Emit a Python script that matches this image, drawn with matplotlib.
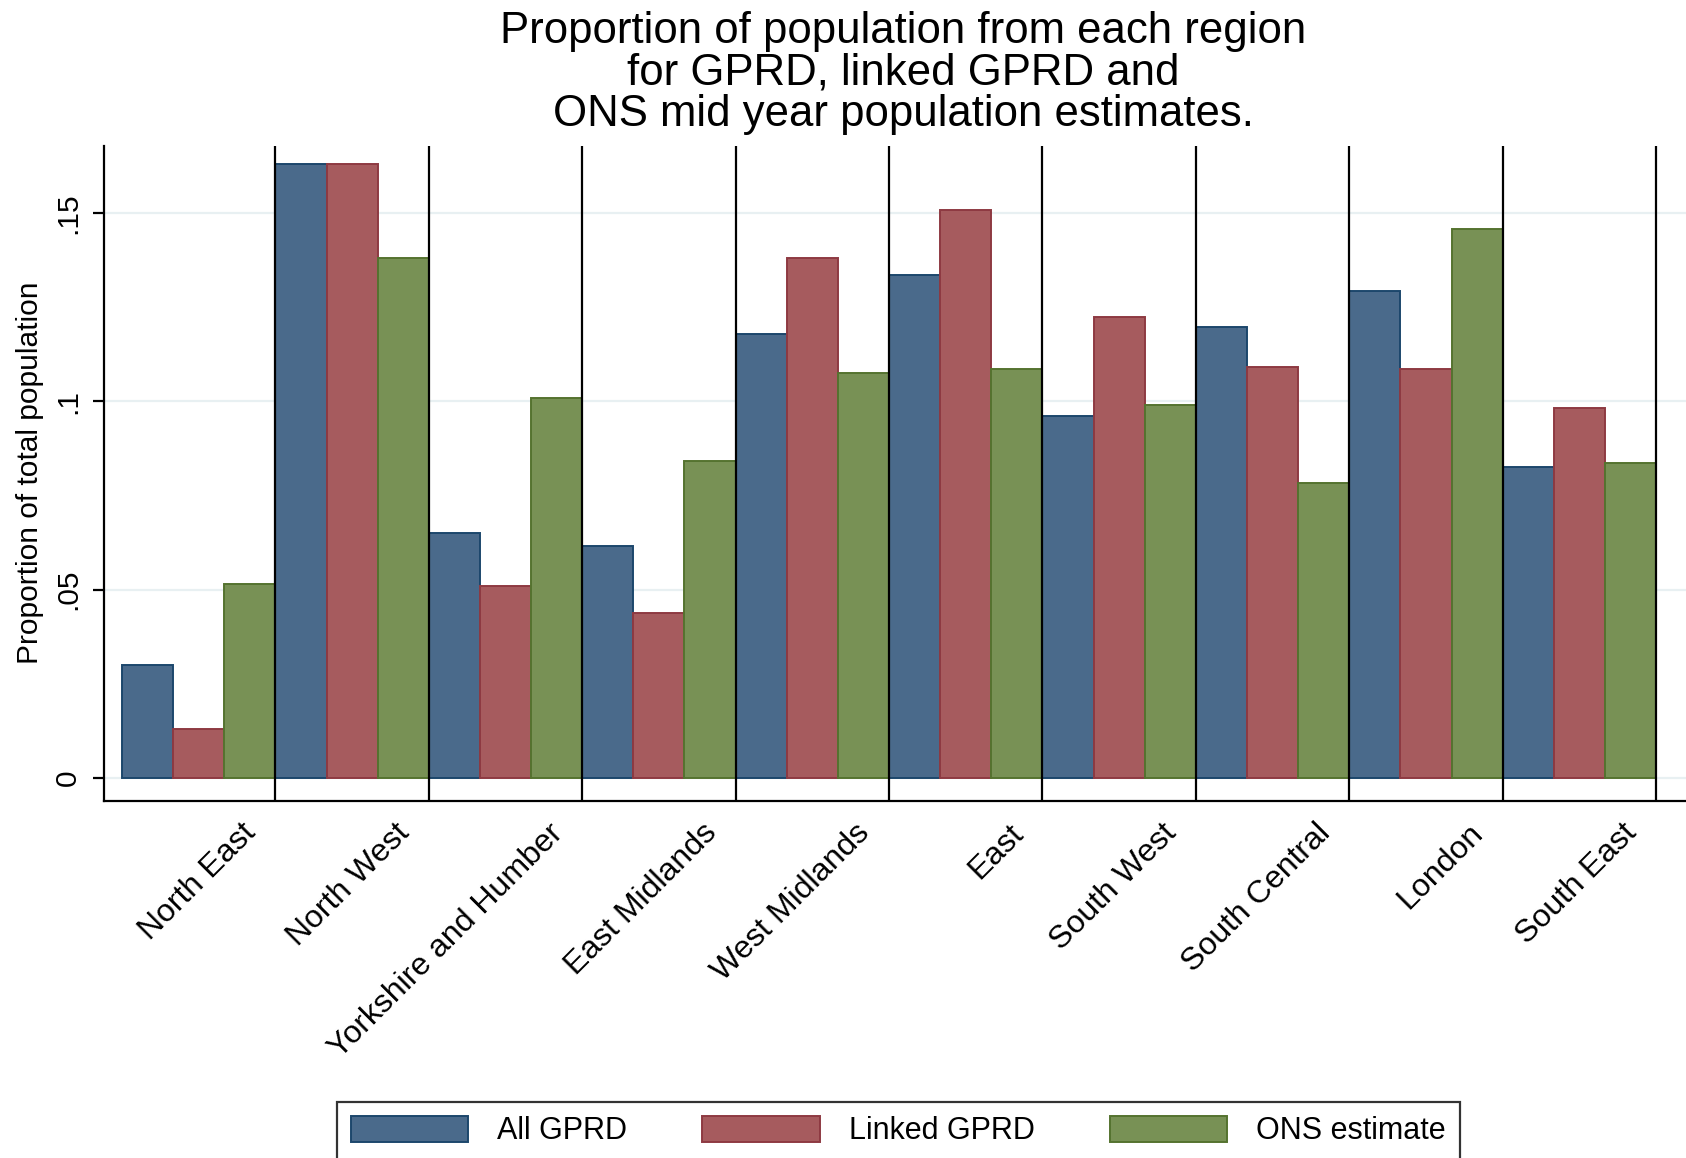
import numpy as np
import matplotlib.pyplot as plt
import matplotlib.transforms as mtransforms

# Schrift (Arial-kompatibel)
plt.rcParams.update({'font.family': ['Liberation Sans', 'DejaVu Sans']})

# Daten
regions = ['North East', 'North West', 'Yorkshire and Humber', 'East Midlands',
           'West Midlands', 'East', 'South West', 'South Central', 'London', 'South East']
all_gprd = [0.0301, 0.163, 0.065, 0.0616, 0.118, 0.1335, 0.096, 0.1198, 0.1292, 0.0825]
linked_gprd = [0.0129, 0.163, 0.051, 0.0438, 0.138, 0.1507, 0.1223, 0.1092, 0.1086, 0.0983]
ons_estimate = [0.0516, 0.138, 0.1009, 0.0842, 0.1074, 0.1086, 0.0991, 0.0782, 0.1458, 0.0837]
series_names = ['All GPRD', 'Linked GPRD', 'ONS estimate']
yticks = [0, 0.05, 0.1, 0.15]
ytick_labels = ['0', '.05', '.1', '.15']

fills = ['#4a6a8b', '#a65b5e', '#789155']
edges = ['#1c476c', '#8e3a42', '#55732f']

fig = plt.figure(figsize=(16.86, 11.58), dpi=100)
ax = fig.add_axes([104 / 1686, 1 - 801 / 1158, 1 - 104 / 1686, (801 - 146) / 1158])

n = len(regions)
x = np.arange(n)
w = 1 / 3
for k, vals in enumerate([all_gprd, linked_gprd, ons_estimate]):
    ax.bar(x + w * (k + 0.5), vals, width=w, color=fills[k], edgecolor=edges[k],
           linewidth=1.4, label=series_names[k], zorder=2)

ymin, ymax = -0.0061, 0.1678
ax.set_xlim(-0.117, n + 0.195)
ax.set_ylim(ymin, ymax)

# horizontale Gitterlinien
for yv in yticks:
    ax.axhline(yv, color='#e8f0f2', lw=1.6, zorder=1)

# vertikale Trennlinien zwischen den Regionen
ax.vlines(np.arange(1, n + 1), ymin, ymax, color='black', lw=1.6, zorder=3)

for s in ['top', 'right']:
    ax.spines[s].set_visible(False)
for s in ['left', 'bottom']:
    ax.spines[s].set_linewidth(1.6)

ax.set_yticks(yticks)
ax.set_yticklabels(ytick_labels, rotation=90, va='center', ha='center')
ax.tick_params(axis='y', length=8, width=1.6, pad=18, labelsize=21.5)

ax.set_xticks(x + 0.5)
ax.set_xticklabels(regions, rotation=45, ha='right', va='center',
                   rotation_mode='anchor', fontsize=23)
ax.tick_params(axis='x', length=0, pad=20)
offset = mtransforms.ScaledTranslation(0.53, 0, fig.dpi_scale_trans)
for lbl in ax.get_xticklabels():
    lbl.set_transform(lbl.get_transform() + offset)

fig.text(30 / 1686, 1 - 473 / 1158, 'Proportion of total population', rotation=90,
         ha='center', va='center', fontsize=21.5)

fig.text(903 / 1686, 1 - 73 / 1158,
         'Proportion of population from each region\nfor GPRD, linked GPRD and\nONS mid year population estimates.',
         ha='center', va='center', fontsize=31.5, linespacing=1.03)

leg = ax.legend(loc='upper left', bbox_to_anchor=(337 / 1686, 1 - 1102 / 1158),
                bbox_transform=fig.transFigure, ncol=3, fontsize=22,
                handlelength=3.85, handleheight=0.95, handletextpad=0.95,
                columnspacing=2.45, borderpad=0.45, borderaxespad=0,
                fancybox=False, frameon=True)
leg.get_frame().set_edgecolor('black')
leg.get_frame().set_linewidth(1.6)

fig.savefig('out.png', dpi=100)
